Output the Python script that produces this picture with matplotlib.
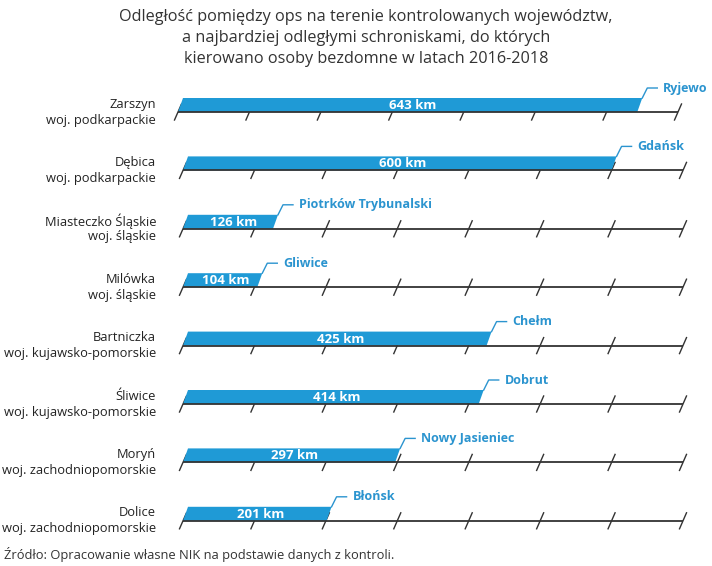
import matplotlib.pyplot as plt
from matplotlib.patches import Polygon

plt.rcParams['font.family'] = ['Open Sans', 'DejaVu Sans']

# data
places = ['Zarszyn', 'Dębica', 'Miasteczko Śląskie', 'Milówka',
          'Bartniczka', 'Śliwice', 'Moryń', 'Dolice']
regions = ['woj. podkarpackie', 'woj. podkarpackie', 'woj. śląskie', 'woj. śląskie',
           'woj. kujawsko-pomorskie', 'woj. kujawsko-pomorskie',
           'woj. zachodniopomorskie', 'woj. zachodniopomorskie']
distances = [643, 600, 126, 104, 425, 414, 297, 201]
shelters = ['Ryjewo', 'Gdańsk', 'Piotrków Trybunalski', 'Gliwice',
            'Chełm', 'Dobrut', 'Nowy Jasieniec', 'Błońsk']
km_ticks = [0, 100, 200, 300, 400, 500, 600, 700]

title_lines = ['Odległość pomiędzy ops na terenie kontrolowanych województw,',
               'a najbardziej odległymi schroniskami, do których',
               'kierowano osoby bezdomne w latach 2016-2018']
source = 'Źródło: Opracowanie własne NIK na podstawie danych z kontroli.'

W, H = 712, 566
BLUE = '#1f9ad6'
LABEL_BLUE = '#2b94cf'
DARK = '#333333'

fig = plt.figure(figsize=(W / 100, H / 100), dpi=100)
ax = fig.add_axes([0, 0, 1, 1])
ax.axis('off')

# pixel <-> data helpers
x0_px, px_per_km = 183, 500 / 700
y0_px, row_px = 112, 58.4
ax.set_xlim(-x0_px / px_per_km, (W - x0_px) / px_per_km)
ax.set_ylim((H - y0_px) / row_px, -y0_px / row_px)

def dx(px):
    return px / px_per_km

def dy(px):
    return px / row_px

bar_h = 14
slant = 5
for i, (d, name) in enumerate(zip(distances, shelters)):
    y = i
    # the first row sits a few pixels to the left in the original
    s = -dx(5) if i == 0 else 0
    # baseline with slanted ticks
    ax.plot([s, s + km_ticks[-1]], [y, y], color=DARK, lw=1.3, zorder=3,
            solid_capstyle='butt')
    for t in km_ticks:
        ax.plot([s + t - dx(3.5), s + t + dx(3.5)], [y + dy(8), y - dy(8)],
                color=DARK, lw=1.0, zorder=1)
    # parallelogram bar
    pts = [(s, y), (s + d, y), (s + d + dx(slant), y - dy(bar_h)),
           (s + dx(slant), y - dy(bar_h))]
    ax.add_patch(Polygon(pts, closed=True, facecolor=BLUE, edgecolor='none', zorder=2))
    ax.text(s + (d + dx(slant)) / 2 + dx(3), y - dy(bar_h / 2) + dy(0.5), f'{d} km',
            color='white', fontsize=9.5, fontweight='bold',
            ha='center', va='center', zorder=4)
    # leader line and shelter name
    lx, ly = s + d + dx(slant), y - dy(bar_h)
    ax.plot([lx, lx + dx(5), lx + dx(15)], [ly, ly - dy(10), ly - dy(10)],
            color=LABEL_BLUE, lw=1.0, zorder=2)
    ax.text(lx + dx(21), ly - dy(10), name, color=LABEL_BLUE, fontsize=9,
            fontweight='bold', ha='left', va='center')
    # left labels
    ax.text(-dx(x0_px - 156), y - dy(8), places[i], color='#222222', fontsize=9.3,
            ha='right', va='center')
    ax.text(-dx(x0_px - 156), y + dy(8), regions[i], color='#222222', fontsize=9.3,
            ha='right', va='center')

for k, line in enumerate(title_lines):
    fig.text(366 / W, 1 - (17 + 21 * k) / H, line, ha='center', va='center',
             fontsize=11.7, color=DARK)

fig.text(4 / W, 1 - 554 / H, source, ha='left', va='center', fontsize=9.3, color=DARK)

fig.savefig('out.png', dpi=100, facecolor='white')
